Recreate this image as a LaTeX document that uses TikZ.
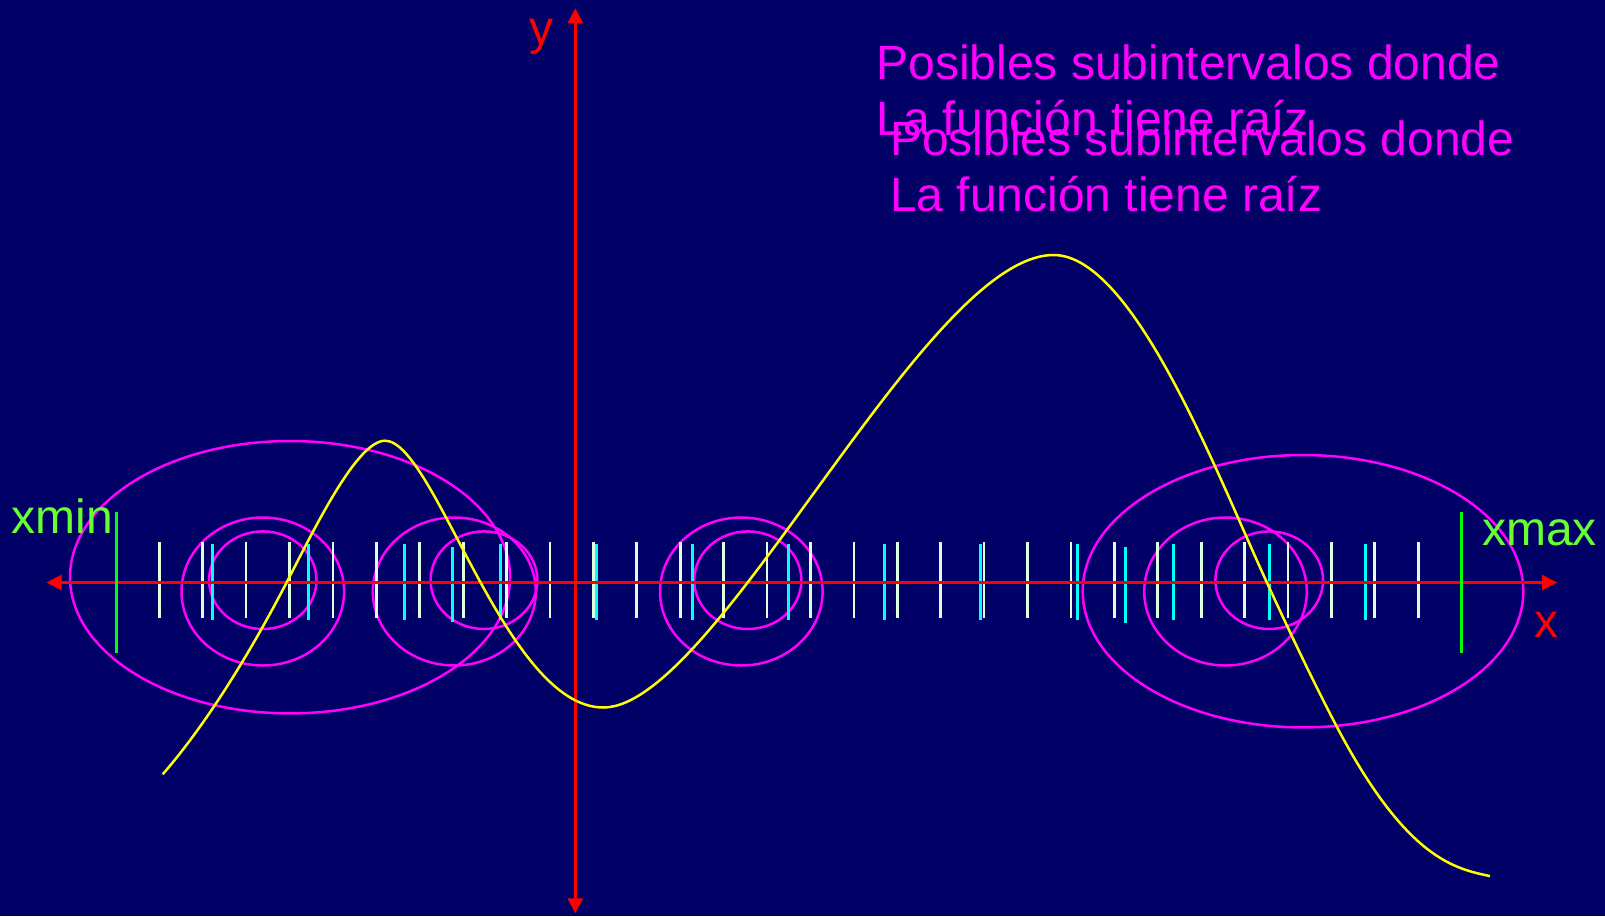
\documentclass[tikz,border=0pt]{standalone}
\usepackage{fontspec}
\setmainfont{Liberation Sans}
\usetikzlibrary{arrows.meta}
\definecolor{bg}{HTML}{000066}
\definecolor{tickw}{HTML}{DDFFDD}
\definecolor{tickc}{HTML}{00FFFF}
\definecolor{lblgreen}{HTML}{66FF33}
\definecolor{lnred}{HTML}{FF0000}
\definecolor{mag}{HTML}{FF00FF}
\definecolor{yel}{HTML}{FFFF00}
\definecolor{grn}{HTML}{00FF00}
\begin{document}
\begin{tikzpicture}[x=1pt,y=-1pt,
  axisline/.style={draw=lnred, line width=2.8pt},
  wtick/.style={draw=tickw, line width=2.7pt},
  ctick/.style={draw=tickc, line width=3pt},
  gline/.style={draw=grn, line width=3pt},
  ring/.style={draw=mag, line width=2.5pt},
  curve/.style={draw=yel, line width=2.5pt},
  lbl/.style={inner sep=0pt, outer sep=0pt, anchor=base west, font=\fontsize{48}{56}\selectfont}]
\fill[bg] (0,0) rectangle (1605,916);
\useasboundingbox (0,0) rectangle (1605,916);

% ellipses
\draw[ring] (290,577.2) ellipse [x radius=220, y radius=136.2];
\draw[ring] (1303,591.2) ellipse [x radius=220.3, y radius=136.2];
\draw[ring] (262.8,591.5) ellipse [x radius=81.3, y radius=74];
\draw[ring] (262.8,580.2) ellipse [x radius=53.7, y radius=48.8];
\draw[ring] (454.3,591.5) ellipse [x radius=81.5, y radius=74];
\draw[ring] (484,580.2) ellipse [x radius=53.4, y radius=48.8];
\draw[ring] (741.3,591.5) ellipse [x radius=81.3, y radius=74];
\draw[ring] (747.8,580.2) ellipse [x radius=53.6, y radius=48.8];
\draw[ring] (1225.5,591.5) ellipse [x radius=81.3, y radius=74];
\draw[ring] (1269.2,580.2) ellipse [x radius=53.8, y radius=48.8];

% ticks
\foreach \i in {0,...,29} \draw[wtick] ({159.3+43.41*\i},542.3) -- ++(0,75.4);
\foreach \k in {1,...,13} \draw[ctick] ({115.9+96.12*\k},544.3) -- ++(0,75.7);
\draw[ctick] (452.3,546.5) -- ++(0,75.5);
\draw[ctick] (1125.3,547) -- ++(0,75.5);

% axes
\coordinate (xl) at (46.5,582.5);
\coordinate (xr) at (1557,582.5);
\coordinate (yt) at (575.3,8.3);
\coordinate (yb) at (575.3,913.3);
\draw[axisline, {Triangle[length=15pt,width=15pt]}-{Triangle[length=15pt,width=15pt]}] (xl) -- (xr);
\draw[axisline, {Triangle[length=15pt,width=15pt]}-{Triangle[length=15pt,width=15pt]}] (yt) -- (yb);

% xmin / xmax bounds
\coordinate (gminT) at (116,512);
\coordinate (gminB) at (116,652.5);
\coordinate (gmaxT) at (1461.8,512);
\coordinate (gmaxB) at (1461.8,652.5);
\draw[gline] (gminT) -- (gminB);
\draw[gline] (gmaxT) -- (gmaxB);

% function
\draw[curve] (162.7,774.3) .. controls (207.7,722.6) and (251.7,649.9) .. (286.7,582.3)
  .. controls (314.7,528.3) and (357,440.7) .. (385,440.7)
  .. controls (434.9,440.7) and (505,707.5) .. (603.3,707.5)
  .. controls (716.5,707.5) and (924.4,255) .. (1053.6,255)
  .. controls (1133.6,255) and (1216.7,473.6) .. (1266.7,582.1)
  .. controls (1290,632.7) and (1313.7,682.8) .. (1336.7,726.5)
  .. controls (1406.7,859.5) and (1455,868.6) .. (1490,876.1);

% labels
\node[lbl, text=lblgreen] (xmin) at (12,533) {xmin};
\node[lbl, text=lblgreen] (xmax) at (1482,545.5) {xmax};
\node[lbl, text=lnred] (xlab) at (1534,637.5) {x};
\node[lbl, text=lnred] (ylab) at (529,44) {y};
\node[lbl, text=mag] (t1a) at (876.3,79.3) {Posibles subintervalos donde};
\node[lbl, text=mag] (t1b) at (876.3,135) {La función tiene raíz};
\node[lbl, text=mag] (t2a) at (890,155.3) {Posibles subintervalos donde};
\node[lbl, text=mag] (t2b) at (890,211.7) {La función tiene raíz};
\end{tikzpicture}
\end{document}
